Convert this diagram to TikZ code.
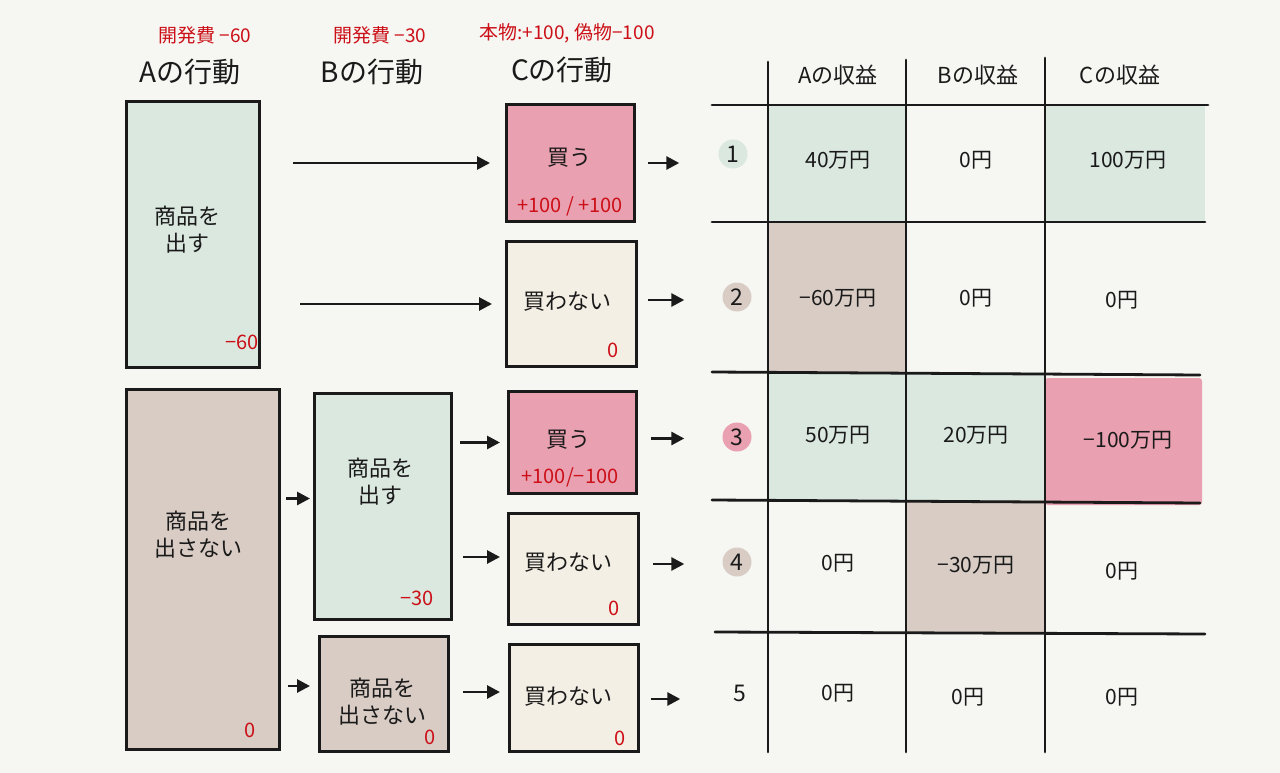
\documentclass[tikz,border=0pt]{standalone}
\usepackage{fontspec}
\setmainfont{Noto Sans CJK JP}
\usetikzlibrary{arrows.meta,calc}
\definecolor{bg}{HTML}{F6F6F2}
\definecolor{mint}{HTML}{DAE8E0}
\definecolor{rose}{HTML}{E9A0B0}
\definecolor{taupe}{HTML}{D8CCC4}
\definecolor{cream}{HTML}{F4EFE4}
\definecolor{redtxt}{HTML}{CC1018}
\definecolor{ink}{HTML}{1A1A1A}
\tikzset{
 box/.style={draw=ink, line width=3pt, anchor=north west, inner sep=0pt},
 lbl/.style={font=\fontsize{22}{27}\selectfont, align=center, text=ink},
 val/.style={font=\fontsize{20}{24}\selectfont, text=redtxt},
 redhdr/.style={font=\fontsize{19}{22}\selectfont, text=redtxt},
 hdr/.style={font=\fontsize{28}{32}\selectfont, text=ink},
 colhdr/.style={font=\fontsize{22}{26}\selectfont, text=ink},
 cell/.style={font=\fontsize{21}{24}\selectfont, text=ink},
 num/.style={circle, minimum size=29pt, inner sep=0pt, font=\fontsize{23}{26}\selectfont, text=ink},
 arr/.style={draw=ink, line width=2.8pt, -{Triangle[length=13pt,width=13pt]}},
 gridline/.style={draw=ink, line width=2.8pt, line cap=round},
}
\begin{document}
\begin{tikzpicture}[x=1pt,y=-1pt]
\fill[bg] (0,0) rectangle (1280,773);
\useasboundingbox (0,0) rectangle (1280,773);

% headers
\node[redhdr] (ha) at (205,35) {開発費 −60};
\node[hdr] (hA) at (190,72) {Aの行動};
\node[redhdr] (hb) at (380,35) {開発費 −30};
\node[hdr] (hB) at (372,72) {Bの行動};
\node[redhdr] (hc) at (567,33) {本物:+100, 偽物−100};
\node[hdr] (hC) at (562,70) {Cの行動};

% A boxes
\node[box, fill=mint, minimum width=133pt, minimum height=266pt] (a1) at (125,100) {};
\node[lbl] (a1t) at (187,230) {商品を\\出す};
\node[val] (a1v) at (242,342) {−60};
\node[box, fill=taupe, minimum width=153pt, minimum height=360pt] (a2) at (125,388) {};
\node[lbl] (a2t) at (198,535) {商品を\\出さない};
\node[val] (a2v) at (250,730) {0};

% B boxes
\node[box, fill=mint, minimum width=137pt, minimum height=226pt] (b1) at (313,392) {};
\node[lbl] (b1t) at (380,482) {商品を\\出す};
\node[val] (b1v) at (417,598) {−30};
\node[box, fill=taupe, minimum width=129pt, minimum height=115pt] (b2) at (318,635) {};
\node[lbl] (b2t) at (382,702) {商品を\\出さない};
\node[val] (b2v) at (430,737) {0};

% C boxes
\node[box, fill=rose, minimum width=128pt, minimum height=117pt] (c1) at (505,103) {};
\node[lbl] (c1t) at (569,158) {買う};
\node[val] (c1v) at (570,206) {+100 / +100};
\node[box, fill=cream, minimum width=130pt, minimum height=125pt] (c2) at (505,240) {};
\node[lbl] (c2t) at (567,302) {買わない};
\node[val] (c2v) at (613,350) {0};
\node[box, fill=rose, minimum width=128pt, minimum height=102pt] (c3) at (507,390) {};
\node[lbl] (c3t) at (568,440) {買う};
\node[val] (c3v) at (570,477) {+100/−100};
\node[box, fill=cream, minimum width=130pt, minimum height=111pt] (c4) at (507,512) {};
\node[lbl] (c4t) at (568,563) {買わない};
\node[val] (c4v) at (614,608) {0};
\node[box, fill=cream, minimum width=129pt, minimum height=107pt] (c5) at (508,643) {};
\node[lbl] (c5t) at (568,697) {買わない};
\node[val] (c5v) at (620,738) {0};

% number markers
\node[num, fill=mint] (n1) at (733,154) {1};
\node[num, fill=taupe] (n2) at (737,297) {2};
\node[num, fill=rose] (n3) at (737,437) {3};
\node[num, fill=taupe] (n4) at (737,562) {4};
\node[num] (n5) at (740,693) {5};

% arrows A -> C
\draw[arr, shorten <=32pt, shorten >=15pt] (a1.east |- c1.west) -- (c1.west);
\draw[arr, shorten <=39pt, shorten >=13pt] (a1.east |- c2.west) -- (c2.west);
% A -> B
\draw[arr] ($(a2.east |- b1.west)+(5,-8)$) -- ($(b1.west)+(-3,-8)$);
\draw[arr] ($(a2.east |- b2.west)+(7,-8)$) -- ($(b2.west)+(-8,-8)$);
% B -> C
\draw[arr] ($(b1.east |- c3.west)+(7,0)$) -- ($(c3.west)+(-7,0)$);
\draw[arr] ($(b1.east |- c4.west)+(10,-12)$) -- ($(c4.west)+(-7,-12)$);
\draw[arr] ($(b2.east |- c5.west)+(13,-6)$) -- ($(c5.west)+(-8,-6)$);
% C -> numbers
\draw[arr] ($(c1.east)+(12,0)$) -- ($(n1.west |- c1.east)+(-39,0)$);
\draw[arr] ($(c2.east)+(10,-4)$) -- ($(n2.west |- c2.east)+(-38,-4)$);
\draw[arr] ($(c3.east)+(13,-4)$) -- ($(n3.west |- c3.east)+(-38,-4)$);
\draw[arr] ($(c4.east)+(13,-5)$) -- ($(n4.west |- c4.east)+(-38,-5)$);
\draw[arr] ($(c5.east)+(11,1)$) -- ($(n5.west |- c5.east)+(-45,1)$);

% table cell fills
\fill[mint] (768,105) rectangle (906,222);
\fill[mint] (1045,105) rectangle (1205,222);
\fill[taupe] (768,222) rectangle (906,372);
\fill[mint] (768,372) rectangle (1045,500);
\fill[rose, rounded corners=3pt] (1045,378) rectangle (1202,505);
\fill[taupe] (906,500) rectangle (1045,632);

% table lines
\draw[gridline] (768,62) -- (768,752);
\draw[gridline] (906,60) -- (906,752);
\draw[gridline] (1045,58) -- (1045,752);
\draw[gridline] (712,105) -- (1208,105);
\draw[gridline] (712,222) -- (1205,222);
\draw[gridline] (712,372) -- (1200,375);
\draw[gridline] (712,500) -- (1200,503);
\draw[gridline] (715,632) -- (1205,634);

% table headers
\node[colhdr] (tA) at (838,75) {Aの収益};
\node[colhdr] (tB) at (978,75) {Bの収益};
\node[colhdr] (tC) at (1120,75) {Cの収益};

% table values
\node[cell] (r1a) at (838,160) {40万円};
\node[cell] (r1b) at (976,160) {0円};
\node[cell] (r1c) at (1128,160) {100万円};
\node[cell] (r2a) at (838,298) {−60万円};
\node[cell] (r2b) at (976,298) {0円};
\node[cell] (r2c) at (1122,300) {0円};
\node[cell] (r3a) at (838,435) {50万円};
\node[cell] (r3b) at (976,435) {20万円};
\node[cell] (r3c) at (1128,440) {−100万円};
\node[cell] (r4a) at (838,563) {0円};
\node[cell] (r4b) at (976,565) {−30万円};
\node[cell] (r4c) at (1122,571) {0円};
\node[cell] (r5a) at (838,693) {0円};
\node[cell] (r5b) at (968,697) {0円};
\node[cell] (r5c) at (1122,697) {0円};
\end{tikzpicture}
\end{document}
